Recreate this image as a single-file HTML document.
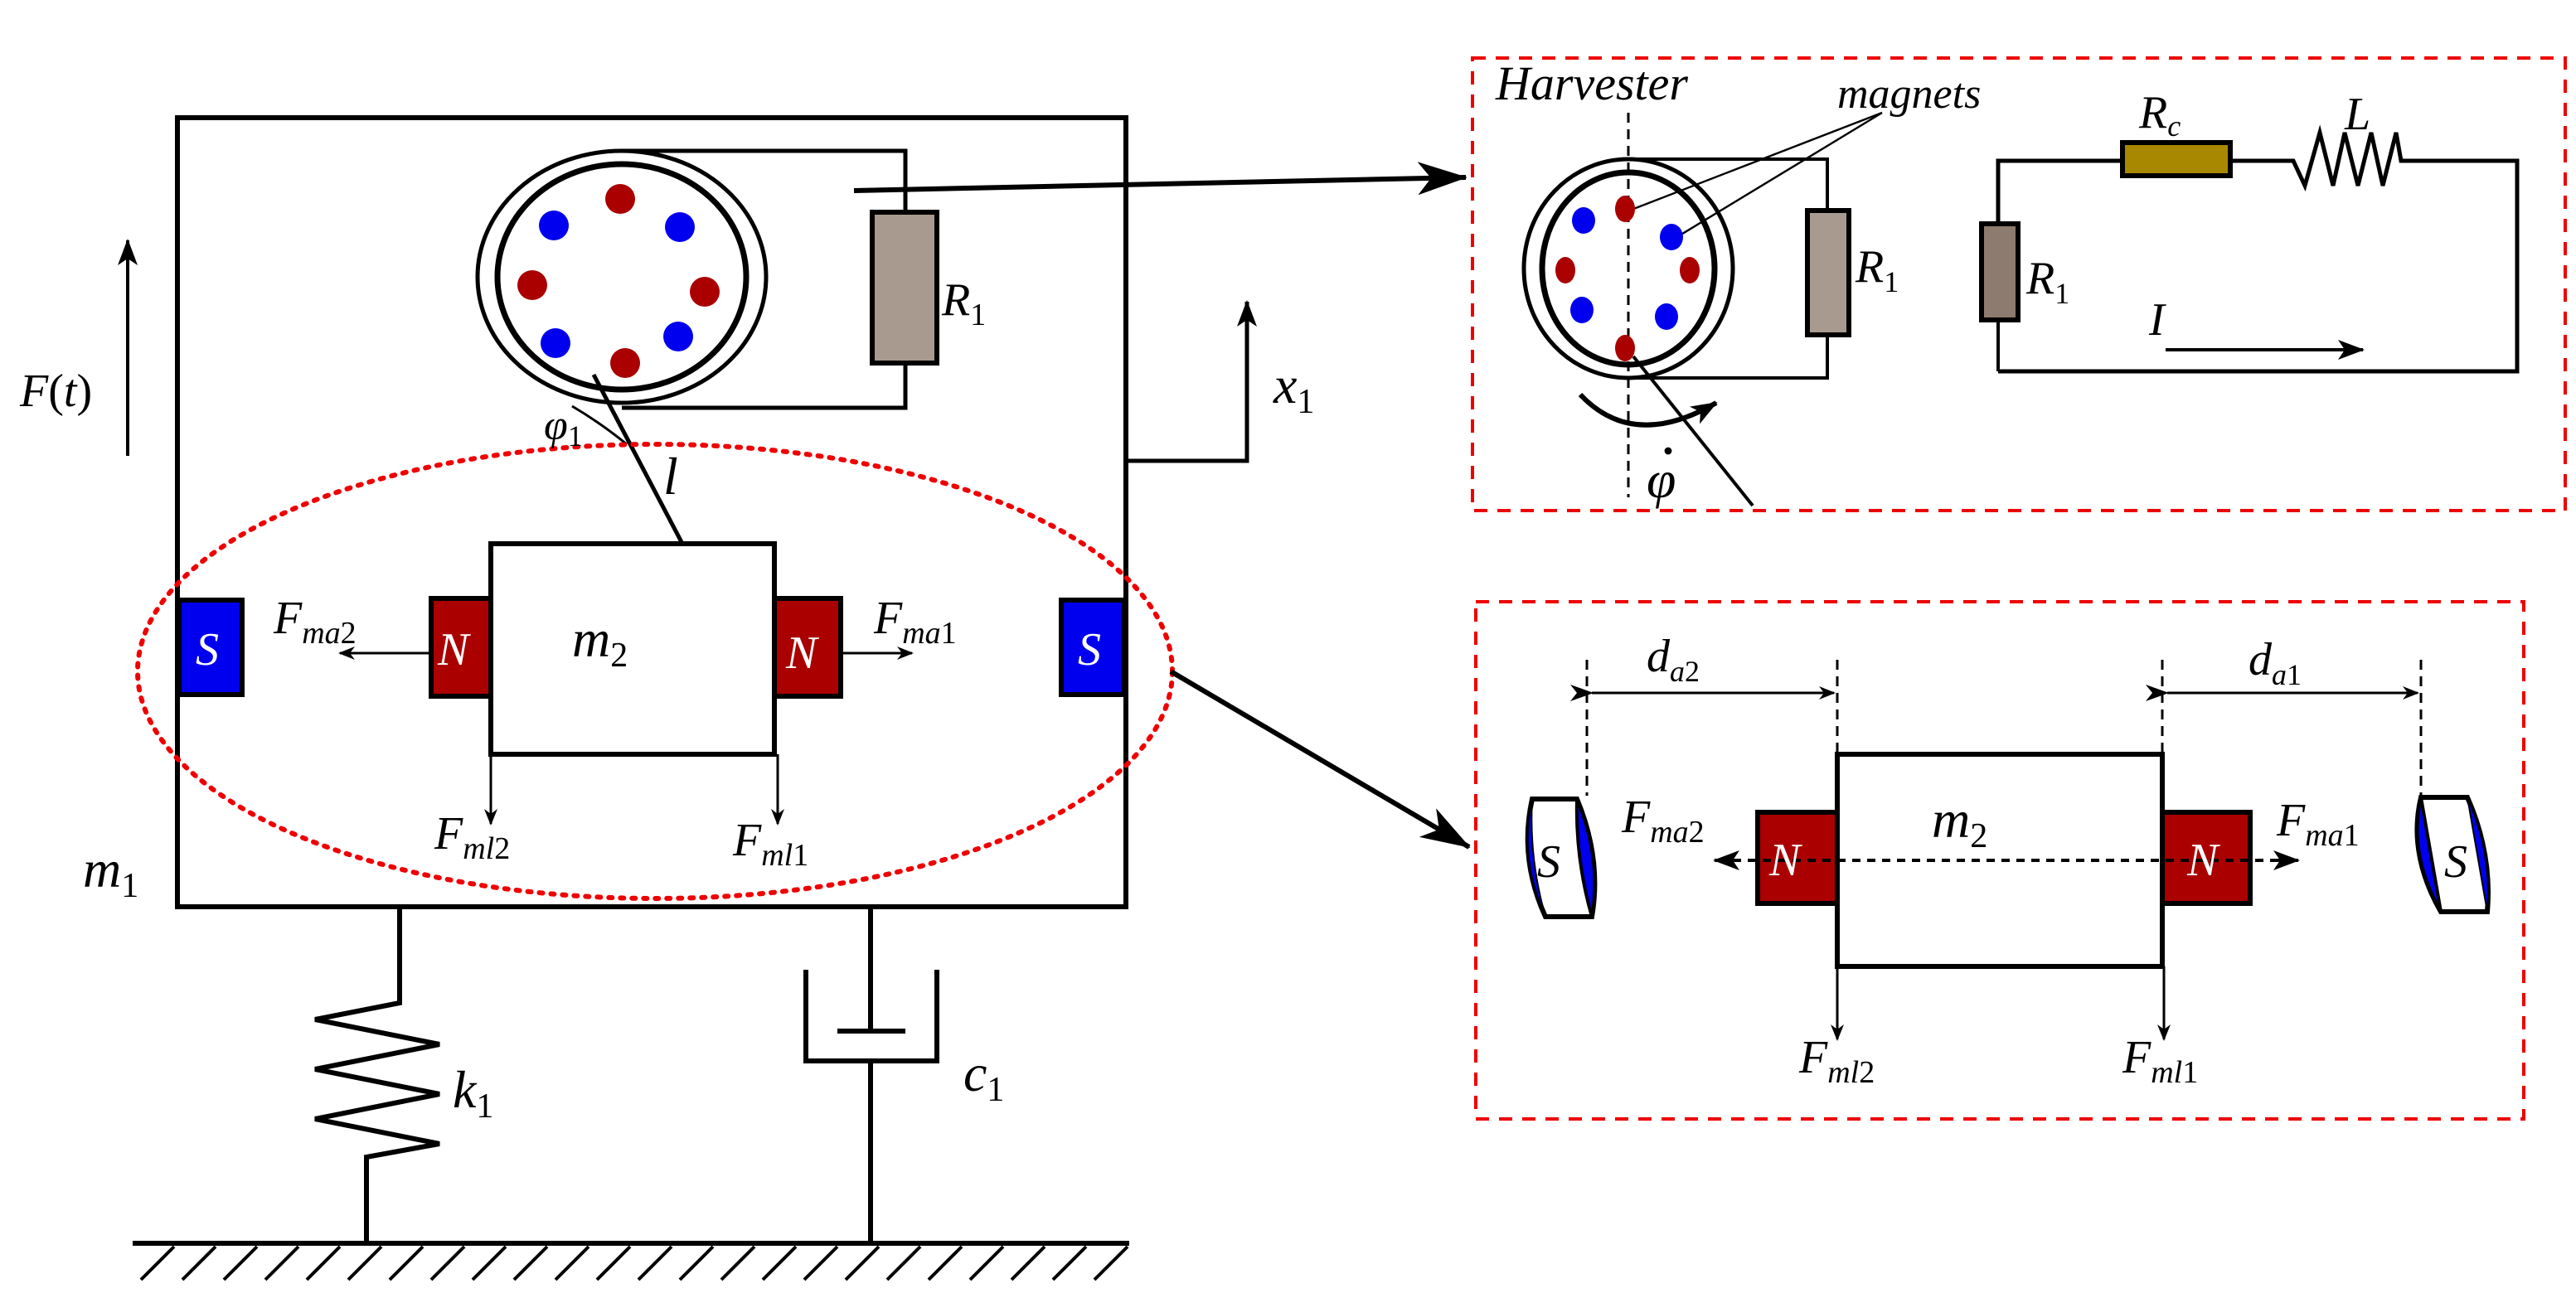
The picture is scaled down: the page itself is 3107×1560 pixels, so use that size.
<!DOCTYPE html>
<html><head><meta charset="utf-8"><style>
html,body{margin:0;padding:0;background:#fff;}
svg{display:block;}
text{font-family:"Liberation Serif",serif;font-style:italic;fill:#000;}
</style></head><body>
<svg width="3107" height="1560" viewBox="0 0 1553.5 780" xmlns="http://www.w3.org/2000/svg">
<defs>
<marker id="ah" markerWidth="10" markerHeight="8" refX="9" refY="4" orient="auto" markerUnits="userSpaceOnUse"><path d="M0,0 L10,4 L0,8 L3,4 Z" fill="#000"/></marker>
<marker id="ab" markerWidth="30" markerHeight="20" refX="29" refY="10" orient="auto" markerUnits="userSpaceOnUse"><path d="M0,0 L30,10 L0,20 L8,10 Z" fill="#000"/></marker>
<marker id="am" markerWidth="16" markerHeight="12" refX="15" refY="6" orient="auto" markerUnits="userSpaceOnUse"><path d="M0,0 L16,6 L0,12 L4,6 Z" fill="#000"/></marker>
<marker id="as" markerWidth="14" markerHeight="10" refX="1" refY="5" orient="auto-start-reverse" markerUnits="userSpaceOnUse"><path d="M14,0 L0,5 L14,10 L10,5 Z" fill="#000"/></marker>
</defs>
<g fill="none" stroke="#000">
<rect x="107" y="71" width="572" height="476" stroke-width="3"/>
<ellipse cx="375" cy="167" rx="87" ry="76" stroke-width="2.5"/>
<ellipse cx="375" cy="167" rx="75" ry="68" stroke-width="3.5"/>
<polyline points="375,91 546,91 546,128" stroke-width="2.5"/>
<polyline points="546,219 546,246 375,246" stroke-width="2.5"/>
<rect x="526" y="128" width="39" height="91" fill="#a89a8e" stroke-width="3"/>
<line x1="358" y1="226" x2="411" y2="327" stroke-width="2.5"/>
<path d="M345,245 Q362,255 378,268" stroke-width="1.5"/>
<line x1="515" y1="115" x2="884" y2="107" stroke-width="3" marker-end="url(#ab)"/>
<polyline points="679,278 752,278 752,182" stroke-width="2.5" marker-end="url(#am)"/>
<line x1="77" y1="275" x2="77" y2="145" stroke-width="2" marker-end="url(#am)"/>
<ellipse cx="395" cy="405" rx="312" ry="137" stroke="#e00" stroke-width="3" stroke-dasharray="2,5" stroke-linecap="round"/>
<rect x="296" y="328" width="171" height="127" stroke-width="3"/>
<rect x="260" y="361" width="36" height="59" fill="#aa0000" stroke-width="3"/>
<rect x="467" y="361" width="40" height="59" fill="#aa0000" stroke-width="3"/>
<rect x="108" y="362" width="38" height="57" fill="#0000ee" stroke-width="3"/>
<rect x="640" y="362" width="38" height="57" fill="#0000ee" stroke-width="3"/>
<line x1="260" y1="394" x2="205" y2="394" stroke-width="1.5" marker-end="url(#ah)"/>
<line x1="507" y1="394" x2="550" y2="394" stroke-width="1.5" marker-end="url(#ah)"/>
<line x1="296" y1="455" x2="296" y2="497" stroke-width="1.5" marker-end="url(#ah)"/>
<line x1="469" y1="455" x2="469" y2="497" stroke-width="1.5" marker-end="url(#ah)"/>
<polyline points="241,547 241,605 190,615 265,630 190,645 265,660 190,675 265,690 221,698 221,750" stroke-width="3"/>
<line x1="525" y1="547" x2="525" y2="622" stroke-width="3"/>
<line x1="505" y1="622" x2="546" y2="622" stroke-width="3"/>
<polyline points="486,585 486,640 565,640 565,585" stroke-width="3"/>
<line x1="525" y1="640" x2="525" y2="750" stroke-width="3"/>
<line x1="80" y1="750" x2="681" y2="750" stroke-width="3"/>
<path d="M105,752 l-20,20 M130,752 l-20,20 M155,752 l-20,20 M180,752 l-20,20 M205,752 l-20,20 M230,752 l-20,20 M255,752 l-20,20 M280,752 l-20,20 M305,752 l-20,20 M330,752 l-20,20 M355,752 l-20,20 M380,752 l-20,20 M405,752 l-20,20 M430,752 l-20,20 M455,752 l-20,20 M480,752 l-20,20 M505,752 l-20,20 M530,752 l-20,20 M555,752 l-20,20 M580,752 l-20,20 M605,752 l-20,20 M630,752 l-20,20 M655,752 l-20,20 M680,752 l-20,20" stroke-width="2"/>
<line x1="706" y1="405" x2="886" y2="511" stroke-width="3" marker-end="url(#ab)"/>
<rect x="888" y="35" width="659" height="273" stroke="#e00" stroke-width="2" stroke-dasharray="8,6"/>
<rect x="890" y="363" width="632" height="312" stroke="#e00" stroke-width="2" stroke-dasharray="8,6"/>
<line x1="982" y1="68" x2="982" y2="300" stroke-width="1.5" stroke-dasharray="6,4"/>
<ellipse cx="982" cy="162" rx="63" ry="66" stroke-width="2.5"/>
<ellipse cx="982" cy="162" rx="52" ry="58" stroke-width="3.5"/>
<polyline points="982,96 1102,96 1102,127" stroke-width="2"/>
<polyline points="1102,202 1102,228 982,228" stroke-width="2"/>
<rect x="1090" y="127" width="25" height="75" fill="#a89a8e" stroke-width="3"/>
<line x1="1135" y1="68" x2="980" y2="128" stroke-width="1.2"/>
<line x1="1135" y1="68" x2="1008" y2="145" stroke-width="1.2"/>
<line x1="985" y1="215" x2="1057" y2="305" stroke-width="2"/>
<path d="M953,238 Q985,272 1035,243" stroke-width="3" marker-end="url(#am)"/>
<polyline points="1205,135 1205,97 1280,97" stroke-width="2.5"/>
<line x1="1205" y1="193" x2="1205" y2="224" stroke-width="2"/>
<rect x="1195" y="135" width="22" height="58" fill="#8c7b6e" stroke-width="3"/>
<rect x="1280" y="86" width="65" height="20" fill="#a88800" stroke-width="3"/>
<polyline points="1345,97 1383,97 1390,112 1399,80 1407,112 1414,80 1422,112 1430,80 1437,112 1445,80 1448,97 1518,97 1518,224 1205,224" stroke-width="2.5"/>
<line x1="1306" y1="211" x2="1425" y2="211" stroke-width="2" marker-end="url(#am)"/>
<path d="M957,398 V480 M1108,398 V455 M1304,398 V455 M1460,398 V480" stroke-width="1.5" stroke-dasharray="6,4"/>
<line x1="960" y1="418" x2="1106" y2="418" stroke-width="1.5" marker-start="url(#as)" marker-end="url(#ah)"/>
<line x1="1307" y1="418" x2="1458" y2="418" stroke-width="1.5" marker-start="url(#as)" marker-end="url(#ah)"/>
<rect x="1108" y="455" width="196" height="128" stroke-width="3"/>
<rect x="1060" y="490" width="48" height="55" fill="#aa0000" stroke-width="3"/>
<rect x="1304" y="490" width="53" height="55" fill="#aa0000" stroke-width="3"/>
<line x1="1045" y1="519" x2="1034" y2="519" stroke-width="2" marker-end="url(#am)"/>
<line x1="1045" y1="519" x2="1375" y2="519" stroke-width="2" stroke-dasharray="5,4"/>
<line x1="1370" y1="519" x2="1386" y2="519" stroke-width="2" marker-end="url(#am)"/>
<line x1="1108" y1="583" x2="1108" y2="627" stroke-width="1.5" marker-end="url(#ah)"/>
<line x1="1305" y1="583" x2="1305" y2="627" stroke-width="1.5" marker-end="url(#ah)"/>
<path d="M924,482 L951,482 Q966,518 960,553 L932,553 Q916,518 924,482 Z" fill="#fff" stroke-width="3"/>
<path d="M924,482 Q916,518 932,553 Q922,518 924,482 Z" fill="#0000ee" stroke-width="1"/>
<path d="M951,482 Q966,518 960,553 Q950,518 951,482 Z" fill="#0000ee" stroke-width="2"/>
<path d="M1460,481 L1488,481 Q1503,515 1500,550 L1472,550 Q1452,515 1460,481 Z" fill="#fff" stroke-width="3"/>
<path d="M1460,481 Q1452,515 1472,550 Q1466,515 1460,481 Z" fill="#0000ee" stroke-width="2"/>
<path d="M1488,481 Q1503,515 1500,550 Q1494,515 1488,481 Z" fill="#0000ee" stroke-width="1"/>
</g>
<g>
<circle cx="374" cy="120" r="9" fill="#aa0000"/><circle cx="321" cy="172" r="9" fill="#aa0000"/>
<circle cx="425" cy="176" r="9" fill="#aa0000"/><circle cx="377" cy="219" r="9" fill="#aa0000"/>
<circle cx="334" cy="136" r="9" fill="#0000ee"/><circle cx="410" cy="137" r="9" fill="#0000ee"/>
<circle cx="335" cy="207" r="9" fill="#0000ee"/><circle cx="409" cy="203" r="9" fill="#0000ee"/>
<ellipse cx="980" cy="126" rx="6" ry="8" fill="#aa0000"/><ellipse cx="944" cy="163" rx="6" ry="8" fill="#aa0000"/>
<ellipse cx="1019" cy="163" rx="6" ry="8" fill="#aa0000"/><ellipse cx="980" cy="210" rx="6" ry="8" fill="#aa0000"/>
<ellipse cx="955" cy="133" rx="7" ry="8" fill="#0000ee"/><ellipse cx="1008" cy="143" rx="7" ry="8" fill="#0000ee"/>
<ellipse cx="954" cy="187" rx="7" ry="8" fill="#0000ee"/><ellipse cx="1005" cy="191" rx="7" ry="8" fill="#0000ee"/>
<circle cx="1006" cy="272" r="2.2" fill="#000"/>
</g>
<g font-size="28">
<text x="568" y="190">R<tspan font-size="19" dy="6" font-style="normal">1</tspan></text>
<text x="328" y="265" font-size="26">φ<tspan font-size="18" dy="4" font-style="normal">1</tspan></text>
<text x="400" y="298" font-size="32">l</text>
<text x="768" y="243" font-size="32">x<tspan font-size="21" dy="6" font-style="normal">1</tspan></text>
<text x="12" y="245">F<tspan font-style="normal">(</tspan>t<tspan font-style="normal">)</tspan></text>
<text x="345" y="396" font-size="32">m<tspan font-size="21" dy="6" font-style="normal">2</tspan></text>
<text x="50" y="535" font-size="32">m<tspan font-size="21" dy="6" font-style="normal">1</tspan></text>
<text x="165" y="382">F<tspan font-size="19" dy="6">ma</tspan><tspan font-size="19" font-style="normal">2</tspan></text>
<text x="527" y="382">F<tspan font-size="19" dy="6">ma</tspan><tspan font-size="19" font-style="normal">1</tspan></text>
<text x="262" y="512">F<tspan font-size="19" dy="6">ml</tspan><tspan font-size="19" font-style="normal">2</tspan></text>
<text x="442" y="516">F<tspan font-size="19" dy="6">ml</tspan><tspan font-size="19" font-style="normal">1</tspan></text>
<text x="118" y="401" style="fill:#fff">S</text>
<text x="650" y="401" style="fill:#fff">S</text>
<text x="264" y="401" style="fill:#fff">N</text>
<text x="474" y="403" style="fill:#fff">N</text>
<text x="273" y="668" font-size="32">k<tspan font-size="21" dy="6" font-style="normal">1</tspan></text>
<text x="581" y="658" font-size="32">c<tspan font-size="21" dy="6" font-style="normal">1</tspan></text>
<text x="902" y="60" font-size="29">Harvester</text>
<text x="1108" y="65" font-size="26">magnets</text>
<text x="1119" y="170">R<tspan font-size="18" dy="6" font-style="normal">1</tspan></text>
<text x="1222" y="177">R<tspan font-size="18" dy="6" font-style="normal">1</tspan></text>
<text x="1290" y="77">R<tspan font-size="18" dy="5">c</tspan></text>
<text x="1414" y="78">L</text>
<text x="1296" y="202">I</text>
<text x="993" y="300" font-size="32">φ</text>
<text x="993" y="405">d<tspan font-size="18" dy="6">a</tspan><tspan font-size="18" font-style="normal">2</tspan></text>
<text x="1356" y="407">d<tspan font-size="18" dy="6">a</tspan><tspan font-size="18" font-style="normal">1</tspan></text>
<text x="1165" y="505" font-size="32">m<tspan font-size="21" dy="6" font-style="normal">2</tspan></text>
<text x="978" y="502">F<tspan font-size="19" dy="6">ma</tspan><tspan font-size="19" font-style="normal">2</tspan></text>
<text x="1373" y="504">F<tspan font-size="19" dy="6">ma</tspan><tspan font-size="19" font-style="normal">1</tspan></text>
<text x="1085" y="647">F<tspan font-size="19" dy="6">ml</tspan><tspan font-size="19" font-style="normal">2</tspan></text>
<text x="1280" y="647">F<tspan font-size="19" dy="6">ml</tspan><tspan font-size="19" font-style="normal">1</tspan></text>
<text x="1067" y="528" style="fill:#fff">N</text>
<text x="1319" y="528" style="fill:#fff">N</text>
<text x="927" y="529">S</text>
<text x="1474" y="529">S</text>
</g>
</svg>
</body></html>
